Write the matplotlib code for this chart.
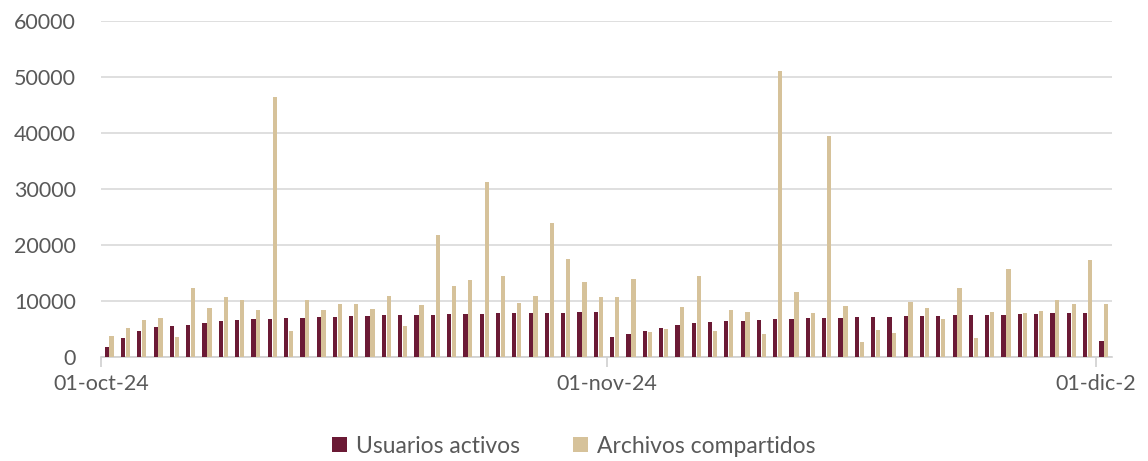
import matplotlib
matplotlib.use("Agg")
import matplotlib.pyplot as plt
import numpy as np
import pandas as pd

plt.rcParams['font.family'] = ['Lato', 'DejaVu Sans']

dates = pd.date_range("2024-10-01", "2024-12-01", freq="D")

usuarios_activos = [
    1840, 3390, 4580, 5300, 5470, 5710, 6070, 6370, 6550, 6730,
    6790, 6900, 6900, 7080, 7140, 7260, 7320, 7440, 7440, 7440,
    7560, 7620, 7620, 7740, 7800, 7800, 7800, 7920, 7920, 7980,
    7950, 3570, 4100, 4580, 5180, 5710, 6010, 6190, 6370, 6430,
    6550, 6730, 6790, 6900, 6960, 7020, 7080, 7080, 7140, 7260,
    7320, 7380, 7440, 7440, 7440, 7500, 7680, 7740, 7800, 7800,
    7800, 2920,
]
archivos_compartidos = [
    3750, 5180, 6600, 6900, 3510, 12260, 8690, 10710, 10180, 8390,
    46500, 4640, 10180, 8390, 9520, 9520, 8570, 10830, 5470, 9350,
    21720, 12620, 13750, 31250, 14400, 9640, 10890, 23930, 17440, 13390,
    10710, 10650, 13930, 4400, 5060, 8870, 14460, 4700, 8390, 8040,
    4100, 51070, 11550, 7860, 39460, 9100, 2740, 4880, 4290, 9820,
    8750, 6790, 12320, 3390, 8040, 15710, 7860, 8210, 10240, 9400,
    17320, 9400,
]
tick_labels = ["01-oct-24", "01-nov-24", "01-dic-2"]
tick_dates = ["2024-10-01", "2024-11-01", "2024-12-01"]

c_dark = "#6B1A35"
c_tan = "#D6C29A"
txt = "#595959"

fig = plt.figure(figsize=(11.48, 4.61), dpi=100)
ax = fig.add_axes([101/1148, 1-357/461, (1112-101)/1148, (357-21)/461])

x = np.arange(len(dates))
w = 0.26
ax.bar(x - 0.15, usuarios_activos, width=w, color=c_dark, label="Usuarios activos", zorder=3)
ax.bar(x + 0.15, archivos_compartidos, width=w, color=c_tan, label="Archivos compartidos", zorder=3)

ax.set_xlim(-0.5, len(dates) - 0.5)
ax.set_ylim(0, 60000)
ax.set_yticks(np.arange(0, 60001, 10000))
ax.yaxis.grid(True, color="#D9D9D9", linewidth=1.2, zorder=0)
ax.tick_params(axis='y', length=0, labelsize=15.5, labelcolor=txt, pad=18)

tick_pos = [list(dates).index(pd.Timestamp(d)) - 0.5 for d in tick_dates]
ax.set_xticks(tick_pos)
ax.set_xticklabels(tick_labels)
ax.tick_params(axis='x', length=7, width=1.2, color="#D0D0D0", labelsize=15.5, labelcolor=txt, pad=5)

for s in ["top", "right", "left"]:
    ax.spines[s].set_visible(False)
ax.spines["bottom"].set_color("#D0D0D0")
ax.spines["bottom"].set_linewidth(1.2)

fig.legend(loc="lower center", bbox_to_anchor=(0.5, -0.035), ncol=2, frameon=False,
           fontsize=16.5, labelcolor=txt, handlelength=0.65, handleheight=0.65,
           handletextpad=0.4, columnspacing=2.3)

fig.savefig("out.png", dpi=100)
